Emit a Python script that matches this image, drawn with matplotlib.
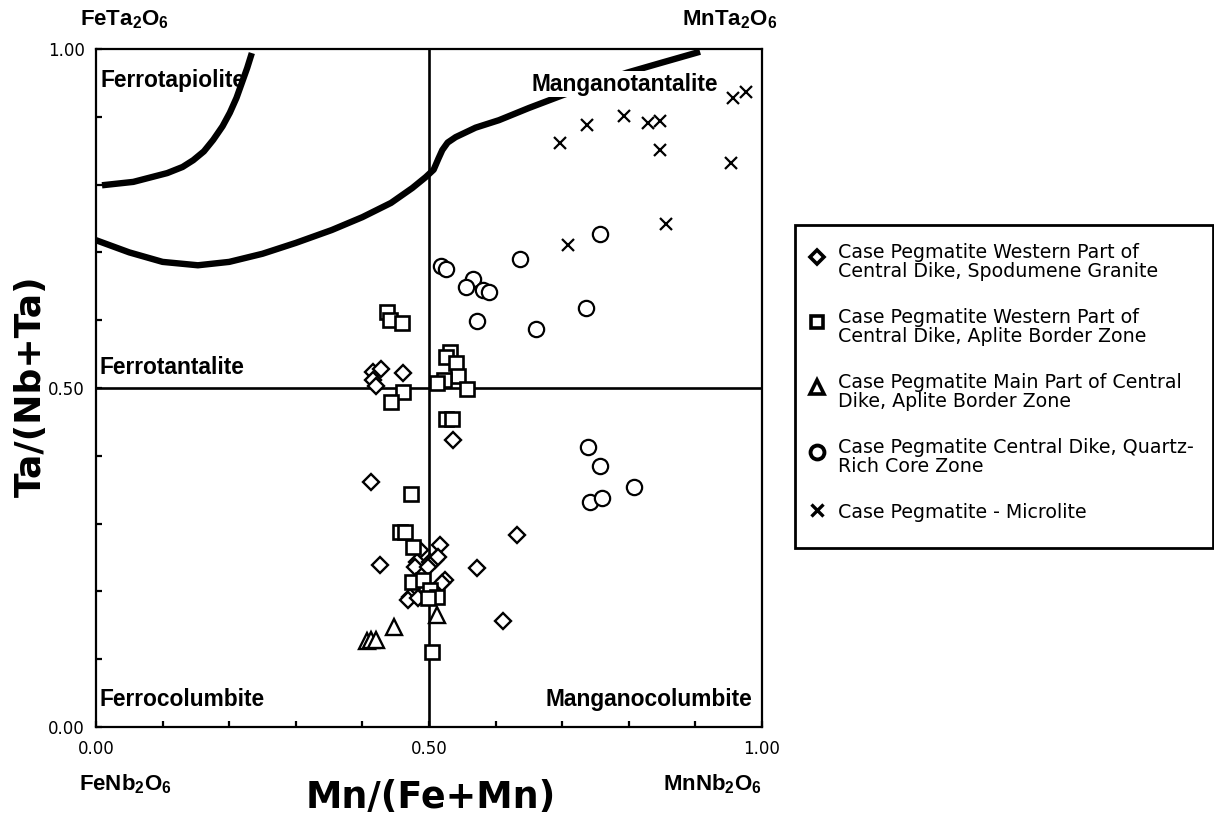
import matplotlib
matplotlib.use("Agg")
import matplotlib.pyplot as plt
from matplotlib.lines import Line2D
from matplotlib.patches import Rectangle
from matplotlib.ticker import MultipleLocator, FixedLocator, FormatStrFormatter

plt.rcParams['mathtext.fontset'] = 'custom'
plt.rcParams['mathtext.bf'] = 'Liberation Sans:bold'
plt.rcParams['mathtext.rm'] = 'Liberation Sans'

# ---------------- data ----------------
spod_x = [0.413, 0.536, 0.632, 0.426, 0.572, 0.611,
          0.416, 0.428, 0.416, 0.420, 0.461,
          0.517, 0.486, 0.482, 0.479, 0.502, 0.509, 0.514, 0.498, 0.524, 0.520,
          0.471, 0.468, 0.483]
spod_y = [0.361, 0.423, 0.283, 0.239, 0.235, 0.156,
          0.524, 0.528, 0.512, 0.503, 0.522,
          0.268, 0.261, 0.243, 0.236, 0.243, 0.246, 0.251, 0.236, 0.217, 0.212,
          0.192, 0.187, 0.190]

aplw_x = [0.437, 0.441, 0.459, 0.461, 0.443, 0.532, 0.526, 0.541, 0.544, 0.523,
          0.512, 0.557, 0.526, 0.535, 0.473, 0.456, 0.464, 0.476, 0.474, 0.491,
          0.502, 0.512, 0.498, 0.505]
aplw_y = [0.612, 0.600, 0.596, 0.494, 0.479, 0.553, 0.546, 0.537, 0.518, 0.512,
          0.507, 0.499, 0.454, 0.454, 0.344, 0.288, 0.288, 0.265, 0.214, 0.217,
          0.202, 0.192, 0.190, 0.111]

aplm_x = [0.407, 0.413, 0.420, 0.447, 0.512]
aplm_y = [0.127, 0.128, 0.128, 0.147, 0.165]

core_x = [0.518, 0.526, 0.566, 0.556, 0.581, 0.590, 0.572, 0.637, 0.757, 0.661,
          0.736, 0.739, 0.757, 0.808, 0.742, 0.760]
core_y = [0.680, 0.676, 0.661, 0.649, 0.645, 0.642, 0.599, 0.690, 0.727, 0.587,
          0.618, 0.413, 0.385, 0.354, 0.332, 0.338]

micro_x = [0.697, 0.737, 0.793, 0.829, 0.847, 0.847, 0.956, 0.976, 0.953, 0.856, 0.709]
micro_y = [0.861, 0.888, 0.901, 0.891, 0.894, 0.851, 0.928, 0.937, 0.832, 0.742, 0.711]

# field boundaries
tap_x = [0.009, 0.056, 0.107, 0.130, 0.146, 0.162, 0.176, 0.190, 0.201, 0.211, 0.219, 0.227, 0.234]
tap_y = [0.799, 0.804, 0.817, 0.826, 0.836, 0.849, 0.866, 0.886, 0.906, 0.928, 0.950, 0.972, 0.994]

gap_x = [0.000, 0.050, 0.100, 0.153, 0.200, 0.250, 0.300, 0.354, 0.400, 0.443, 0.475,
         0.495, 0.507, 0.514, 0.520, 0.528, 0.540, 0.570, 0.605, 0.650, 0.701, 0.750,
         0.797, 0.850, 0.907]
gap_y = [0.718, 0.700, 0.686, 0.681, 0.686, 0.698, 0.714, 0.733, 0.752, 0.773, 0.795,
         0.811, 0.822, 0.838, 0.851, 0.862, 0.870, 0.884, 0.895, 0.913, 0.932, 0.949,
         0.965, 0.980, 0.996]

labels = ["Case Pegmatite Western Part of\nCentral Dike, Spodumene Granite",
          "Case Pegmatite Western Part of\nCentral Dike, Aplite Border Zone",
          "Case Pegmatite Main Part of Central\nDike, Aplite Border Zone",
          "Case Pegmatite Central Dike, Quartz-\nRich Core Zone",
          "Case Pegmatite - Microlite"]

W, H = 1214, 817
def fx(px): return px / W
def fy(py): return 1 - py / H

fig = plt.figure(figsize=(W / 100, H / 100), dpi=100)
ax = fig.add_axes([fx(96), fy(727), 666 / W, 678 / H])
ax.set_xlim(0, 1)
ax.set_ylim(0, 1)

for s in ax.spines.values():
    s.set_linewidth(1.6)

ax.axvline(0.5, color='black', lw=1.9, zorder=1)
ax.axhline(0.5, color='black', lw=1.9, zorder=1)

ax.plot(tap_x, tap_y, color='black', lw=4.6, solid_capstyle='butt', zorder=2)
ax.plot(gap_x, gap_y, color='black', lw=4.6, solid_capstyle='butt', zorder=2)

common = dict(ls='none', mfc='white', mec='black', zorder=3)
ax.plot(spod_x, spod_y, marker='D', ms=8.5, mew=1.7, **common)
ax.plot(aplw_x, aplw_y, marker='s', ms=10, mew=1.9, **common)
ax.plot(aplm_x, aplm_y, marker='^', ms=11.5, mew=1.7, **common)
ax.plot(core_x, core_y, marker='o', ms=11, mew=1.6, **common)
ax.plot(micro_x, micro_y, ls='none', marker='x', ms=8, mew=1.6, color='black', zorder=3)

ax.xaxis.set_major_locator(FixedLocator([0, 0.5, 1]))
ax.yaxis.set_major_locator(FixedLocator([0, 0.5, 1]))
ax.xaxis.set_minor_locator(MultipleLocator(0.1))
ax.yaxis.set_minor_locator(MultipleLocator(0.1))
ax.xaxis.set_major_formatter(FormatStrFormatter('%.2f'))
ax.yaxis.set_major_formatter(FormatStrFormatter('%.2f'))
ax.tick_params(which='both', direction='in', length=4, width=1.6, top=False, right=False)
ax.tick_params(axis='x', which='major', pad=9, labelsize=12)
ax.tick_params(axis='y', which='major', pad=8, labelsize=12)
for t in ax.get_xticklabels() + ax.get_yticklabels():
    t.set_family('DejaVu Sans')

# field names
fkw = dict(family='Liberation Sans', weight='bold', fontsize=16.4, zorder=4)
ax.text(0.0075, 0.954, "Ferrotapiolite", ha='left', va='center', **fkw)
ax.text(0.934, 0.948, "Manganotantalite", ha='right', va='center',
        bbox=dict(facecolor='white', edgecolor='none', pad=1.0), **fkw)
ax.text(0.006, 0.5295, "Ferrotantalite", ha='left', va='center', **fkw)
ax.text(0.006, 0.040, "Ferrocolumbite", ha='left', va='center', **fkw)
ax.text(0.986, 0.040, "Manganocolumbite", ha='right', va='center', **fkw)

# end members
ckw = dict(fontsize=16, ha='center', va='center')
fig.text(fx(125), fy(20), r'$\mathbf{FeTa_2O_6}$', **ckw)
fig.text(fx(730), fy(20), r'$\mathbf{MnTa_2O_6}$', **ckw)
fig.text(fx(125), fy(784), r'$\mathbf{FeNb_2O_6}$', **ckw)
fig.text(fx(712), fy(784), r'$\mathbf{MnNb_2O_6}$', **ckw)

# axis titles
fig.text(fx(431), fy(797), "Mn/(Fe+Mn)", family='DejaVu Sans', weight='bold',
         fontsize=26.3, ha='center', va='center')
fig.text(fx(31), fy(386), "Ta/(Nb+Ta)", family='DejaVu Sans', weight='bold',
         fontsize=26, ha='center', va='center', rotation=90)

# legend (drawn manually)
fig.add_artist(Rectangle((fx(795), fy(548)), (1213 - 795) / W, (548 - 225) / H,
                         transform=fig.transFigure, fill=False, edgecolor='black', lw=2))
markers = [('D', 7, 2.6), ('s', 8, 2.6), ('^', 10, 2.6), ('o', 10, 2.8), ('x', 8, 2.4)]
mark_y = [257, 322, 387, 452, 510]
text_y = [262, 327, 392, 457, 512]
for (m, ms, mew), my, ty, lab in zip(markers, mark_y, text_y, labels):
    if m == 'x':
        fig.add_artist(Line2D([fx(817)], [fy(my)], transform=fig.transFigure, ls='none',
                              marker=m, ms=ms, mew=mew, color='black'))
    else:
        fig.add_artist(Line2D([fx(817)], [fy(my)], transform=fig.transFigure, ls='none',
                              marker=m, ms=ms, mew=mew, mfc='white', mec='black'))
    fig.text(fx(838), fy(ty), lab, family='DejaVu Sans', fontsize=13.7,
             ha='left', va='center', linespacing=1.0)

fig.savefig("out.png", dpi=100)
